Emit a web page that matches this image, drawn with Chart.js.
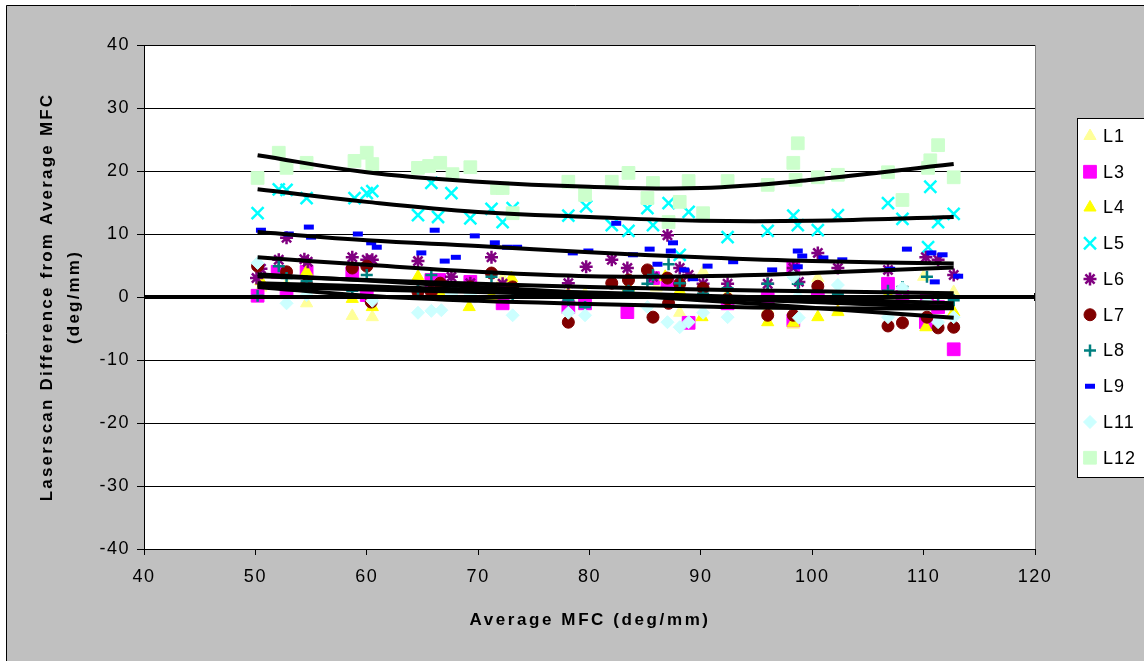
<!DOCTYPE html>
<html>
<head>
<meta charset="utf-8">
<title>Laserscan difference from average MFC</title>
<script src="https://cdn.jsdelivr.net/npm/chart.js@4.4.1/dist/chart.umd.min.js"></script>
<style>
	html, body { margin: 0; padding: 0; background: #fff; }
	canvas { display: block; }
</style>
</head>
<body>
<canvas id="myChart" width="1144" height="661"></canvas>
<script>
// values, [average MFC, difference]
var l1 = [[50.5,1.5],[52.8,2.0],[54.6,-1.0],[58.7,-3.0],[60.5,-3.2],[64.6,3.2],[66.6,1.0],[72.2,2.9],[78.1,-1.0],[79.6,0.5],[83.5,1.0],[86.0,1.5],[88.1,-2.5],[90.2,4.0],[92.4,0.5],[96.0,-2.0],[98.3,-4.4],[100.5,3.0],[102.3,-2.2],[106.8,0.5],[108.1,-1.0],[110.0,3.2],[112.7,0.8]];
var l3 = [[50.2,0.2],[52.0,4.0],[52.8,1.1],[54.6,4.0],[58.7,3.8],[60.0,0.3],[65.8,2.7],[66.5,2.7],[69.3,2.4],[72.2,-1.0],[78.1,-1.6],[79.6,-1.0],[83.4,-2.4],[85.7,3.0],[87.0,2.2],[88.9,-4.1],[92.4,-1.0],[96.0,-0.3],[98.3,4.9],[98.3,-3.7],[100.5,0.0],[106.8,2.1],[108.1,0.0],[110.2,-4.0],[110.3,-0.5],[111.3,-1.6],[112.7,-8.3]];
var l4 = [[50.5,2.5],[54.6,4.0],[58.7,-0.3],[60.5,-1.6],[64.6,3.2],[66.7,0.5],[69.2,-1.6],[71.2,0.2],[73.0,3.0],[78.1,0.5],[83.5,1.5],[86.8,3.2],[88.1,1.0],[90.1,-3.2],[92.4,0.0],[96.0,-4.0],[98.3,-4.1],[100.5,-3.2],[102.3,-2.4],[106.8,0.3],[110.2,-4.8],[112.7,-2.4]];
var l5 = [[50.2,13.3],[52.1,17.1],[52.8,17.0],[54.6,15.7],[58.9,15.7],[60.0,16.5],[60.5,16.8],[64.6,13.0],[65.8,18.1],[66.4,12.7],[67.6,16.5],[69.3,12.5],[71.2,14.0],[72.2,11.9],[73.1,14.1],[78.1,12.9],[79.7,14.4],[82.0,11.4],[83.5,10.5],[85.2,14.1],[85.7,11.4],[87.1,14.9],[88.1,6.7],[88.9,13.5],[92.4,9.5],[96.0,10.5],[98.3,12.9],[98.7,11.4],[100.5,10.6],[102.3,13.0],[106.8,14.9],[108.1,12.4],[110.4,7.9],[110.6,17.5],[111.3,11.9],[112.7,13.2]];
var l6 = [[50.1,3.0],[50.5,4.5],[52.1,5.9],[52.8,9.4],[54.4,6.0],[54.7,5.6],[58.7,6.3],[60.0,5.9],[60.5,5.9],[64.6,5.7],[67.6,3.2],[69.3,2.2],[71.2,6.3],[72.2,2.1],[78.1,2.2],[79.7,4.8],[82.0,5.9],[83.4,4.6],[85.7,3.2],[87.0,9.8],[88.1,4.6],[88.9,3.5],[90.2,2.1],[92.4,2.1],[96.0,2.1],[98.3,4.6],[98.8,2.4],[100.5,7.0],[102.3,4.6],[106.8,4.3],[110.2,6.3],[111.3,5.9],[112.7,3.5]];
var l7 = [[50.2,4.9],[52.8,4.0],[54.6,2.0],[58.7,4.6],[60.0,4.9],[60.4,-0.8],[64.6,0.8],[65.8,0.8],[66.6,2.2],[69.3,1.6],[71.2,3.8],[73.1,1.6],[78.1,-4.0],[82.0,2.2],[83.5,2.7],[85.2,4.3],[85.7,-3.2],[87.0,3.0],[87.1,-1.0],[88.1,2.1],[90.2,1.4],[92.4,-0.3],[96.0,-2.9],[98.3,-2.9],[100.5,1.7],[102.3,-0.3],[106.8,-4.6],[108.1,-4.1],[110.3,-3.2],[111.3,-4.9],[112.7,-4.8]];
var l8 = [[50.2,0.2],[52.1,4.9],[52.8,3.0],[54.6,2.5],[58.7,1.0],[60.0,3.5],[64.6,1.3],[65.8,3.5],[67.6,1.5],[71.2,3.2],[73.1,0.0],[78.1,-0.5],[79.6,-1.6],[83.5,1.0],[85.2,2.1],[85.7,3.5],[87.1,5.2],[88.1,2.2],[90.2,0.5],[92.4,1.4],[96.0,2.1],[98.7,2.1],[102.3,0.5],[106.8,1.0],[108.1,1.6],[110.3,3.2],[111.3,-0.9],[112.7,-0.5]];
var l9 = [[50.5,10.6],[53.0,10.0],[54.8,11.1],[55.0,9.5],[59.2,10.0],[60.4,8.6],[60.9,7.9],[64.9,7.0],[66.1,10.6],[67.0,5.7],[68.0,6.3],[69.7,9.7],[71.5,8.6],[72.6,7.9],[73.5,7.9],[78.5,7.0],[79.9,7.3],[82.4,11.7],[83.9,6.7],[85.4,7.6],[86.1,5.2],[87.3,7.3],[87.5,8.6],[88.5,4.3],[89.3,2.9],[90.6,4.9],[92.9,5.6],[96.4,4.3],[98.7,7.3],[98.7,4.8],[99.1,6.5],[101.0,6.2],[102.7,5.9],[107.0,4.4],[108.5,7.6],[110.7,7.0],[111.0,2.4],[111.7,6.7],[113.1,3.3]];
var l11 = [[50.2,5.4],[52.8,-1.0],[54.6,0.3],[60.5,-0.6],[64.6,-2.5],[65.8,-2.2],[66.7,-2.1],[67.6,0.5],[69.3,0.5],[73.1,-2.9],[78.1,-2.5],[79.6,-2.9],[85.2,-1.6],[87.0,-4.0],[88.1,-4.8],[88.9,-4.0],[90.2,-2.5],[92.4,-3.2],[98.3,3.2],[98.7,0.0],[98.8,-3.3],[102.3,1.9],[106.8,-3.2],[108.1,1.4],[110.3,-0.8],[111.3,-4.0],[112.7,-3.2]];
var l12 = [[50.2,18.9],[52.1,22.9],[52.8,20.5],[54.6,21.3],[58.9,21.6],[60.0,22.9],[60.5,21.1],[64.6,20.5],[65.6,20.8],[66.6,21.3],[67.7,19.5],[69.3,20.6],[71.7,17.3],[72.2,17.3],[73.1,13.3],[78.1,18.3],[79.6,16.2],[82.0,18.3],[83.5,19.7],[85.2,15.7],[85.7,18.1],[87.1,11.9],[88.1,15.1],[88.9,18.4],[90.2,13.3],[92.4,18.4],[96.0,17.8],[98.3,21.3],[98.5,18.6],[98.7,24.4],[100.5,19.0],[102.3,19.4],[106.8,19.8],[108.1,15.4],[110.4,20.5],[110.6,21.7],[111.3,24.1],[112.7,19.0]];

// trend lines (one per series), sampled at these x values
var trendX = [50.2, 60, 70, 80, 90, 100, 112.7];
var trend1 = [1.9, 1.5, 1.1, 0.7, 0.2, -0.3, -1.0];
var trend3 = [2.2, 1.7, 1.1, 0.5, -0.1, -0.7, -1.6];
var trend4 = [1.7, 1.2, 0.8, 0.3, -0.2, -0.8, -1.7];
var trend5 = [17.1, 15.1, 13.5, 12.7, 12.1, 12.1, 12.7];
var trend6 = [6.3, 5.1, 4.0, 3.3, 3.3, 3.8, 4.7];
var trend7 = [3.6, 2.6, 1.6, 0.6, -0.5, -1.7, -3.3];
var trend8 = [3.3, 2.7, 2.1, 1.6, 1.2, 0.9, 0.6];
var trend9 = [10.3, 9.0, 8.1, 7.1, 6.3, 5.7, 5.3];
var trend11 = [1.6, 0.2, -0.6, -1.1, -1.5, -1.8, -1.8];
var trend12 = [22.5, 19.8, 18.3, 17.5, 17.3, 18.6, 21.1];

var zeroLine = [[40, 0], [120, 0]];
var xTicks = [40, 50, 60, 70, 80, 90, 100, 110, 120];
var yTicks = [-40, -30, -20, -10, 0, 10, 20, 30, 40];

var font = "'Liberation Sans', Arial, sans-serif";

var series = [
	{label: 'L1', data: l1, trend: trend1, style: 'triangle', r: 7, color: '#FFFF99'},
	{label: 'L3', data: l3, trend: trend3, style: 'rect', r: 9, color: '#FF00FF'},
	{label: 'L4', data: l4, trend: trend4, style: 'triangle', r: 7, color: '#FFFF00'},
	{label: 'L5', data: l5, trend: trend5, style: 'crossRot', r: 8.5, color: '#00FFFF', bw: 2.5},
	{label: 'L6', data: l6, trend: trend6, style: 'star', r: 6.5, color: '#800080', bw: 2.5},
	{label: 'L7', data: l7, trend: trend7, style: 'circle', r: 6, color: '#800000'},
	{label: 'L8', data: l8, trend: trend8, style: 'cross', r: 6, color: '#008080', bw: 2.5},
	{label: 'L9', data: l9, trend: trend9, style: 'line', r: 5, color: '#0000FF', bw: 5},
	{label: 'L11', data: l11, trend: trend11, style: 'rectRot', r: 6.5, color: '#CCFFFF'},
	{label: 'L12', data: l12, trend: trend12, style: 'rect', r: 9, color: '#CCFFCC'}
];

function toPoints(arr){
	var out = [];
	for (var i in arr) out.push({x: arr[i][0], y: arr[i][1]});
	return out;
}

var datasets = [];
// zero line and trend lines on top of the markers
datasets.push({
	type: 'line', label: 'zero', data: toPoints(zeroLine),
	borderColor: '#000', borderWidth: 4, order: 0,
	pointStyle: 'line', rotation: 90, pointRadius: 4, pointBorderWidth: 2, pointBorderColor: '#000'
});
for (var i in series){
	var s = series[i];
	var pts = [];
	for (var j in trendX) pts.push({x: trendX[j], y: s.trend[j]});
	datasets.push({
		type: 'line', label: s.label + ' trend', data: pts,
		borderColor: '#000', borderWidth: 4, pointRadius: 0, tension: 0.4, fill: false, order: 0
	});
}
for (var i in series){
	var s = series[i];
	datasets.push({
		type: 'scatter', label: s.label, data: toPoints(s.data),
		pointStyle: s.style, pointRadius: s.r, pointHoverRadius: s.r,
		backgroundColor: s.color, borderColor: s.color, borderWidth: s.bw || 1,
		order: 20 - i
	});
}

var frame = {
	id: 'frame',
	beforeUpdate: function(chart){ chart.ctx.letterSpacing = '1.5px'; },
	beforeDraw: function(chart){
		var ctx = chart.ctx, a = chart.chartArea;
		ctx.save();
		ctx.fillStyle = '#fff';
		ctx.fillRect(0, 0, chart.width, chart.height);
		ctx.fillStyle = '#C0C0C0';
		ctx.fillRect(6, 5, chart.width, chart.height);
		ctx.strokeStyle = '#000';
		ctx.lineWidth = 1;
		ctx.beginPath();
		ctx.moveTo(6.5, chart.height); ctx.lineTo(6.5, 5.5); ctx.lineTo(chart.width, 5.5);
		ctx.stroke();
		ctx.fillStyle = '#fff';
		ctx.fillRect(a.left, a.top, a.right - a.left, a.bottom - a.top);
		ctx.strokeStyle = '#808080';
		ctx.strokeRect(a.left + 0.5, a.top + 0.5, a.right - a.left, a.bottom - a.top);
		ctx.restore();
		ctx.letterSpacing = '1.5px';
	},
	afterDraw: function(chart){
		var ctx = chart.ctx;
		ctx.save();
		ctx.fillStyle = '#000';
		ctx.textAlign = 'center';
		ctx.textBaseline = 'middle';
		ctx.font = 'bold 17px ' + font;
		ctx.letterSpacing = '2.6px';
		ctx.fillText('Average MFC (deg/mm)', 590, 620);
		ctx.letterSpacing = '2.2px';
		ctx.translate(0, 297);
		ctx.rotate(-Math.PI / 2);
		ctx.fillText('Laserscan Difference from Average MFC', 0, 47);
		ctx.fillText('(deg/mm)', 0, 74);
		ctx.restore();

		// legend
		ctx.save();
		var top = 118, step = 35.75;
		ctx.fillStyle = '#fff';
		ctx.fillRect(1077, top, 80, 477 - top);
		ctx.strokeStyle = '#000';
		ctx.lineWidth = 1;
		ctx.strokeRect(1077.5, top + 0.5, 80, 477 - top);
		ctx.font = '18px ' + font;
		ctx.letterSpacing = '1px';
		ctx.textAlign = 'left';
		ctx.textBaseline = 'middle';
		for (var i in series){
			var s = series[i];
			var y = 136 + i * step;
			ctx.fillStyle = s.color;
			ctx.strokeStyle = s.color;
			ctx.lineWidth = s.bw || 1;
			if (Chart.helpers && Chart.helpers.drawPoint){
				Chart.helpers.drawPoint(ctx, {pointStyle: s.style, radius: s.r, rotation: 0, borderWidth: s.bw || 1}, 1090, y);
			} else {
				ctx.fillRect(1085, y - 5, 10, 10);
			}
			ctx.fillStyle = '#000';
			ctx.fillText(s.label, 1103, y + 1);
		}
		ctx.restore();
	}
};

var ctx = document.getElementById('myChart');
var chart = new Chart(ctx, {
	type: 'scatter',
	data: {datasets: datasets},
	options: {
		responsive: false,
		animation: false,
		events: [],
		layout: {padding: {top: 45, right: 109, bottom: 0, left: 0}},
		plugins: {legend: {display: false}, tooltip: {enabled: false}},
		scales: {
			x: {
				type: 'linear', min: 40, max: 120,
				afterBuildTicks: function(scale){ scale.ticks = xTicks.map(function(v){ return {value: v}; }); },
				afterFit: function(scale){ scale.height = 112; },
				ticks: {color: '#000', font: {size: 18, family: font}, padding: 11},
				grid: {drawOnChartArea: false, color: '#000', tickLength: 6},
				border: {color: '#000', width: 1}
			},
			y: {
				type: 'linear', min: -40, max: 40,
				afterBuildTicks: function(scale){ scale.ticks = yTicks.map(function(v){ return {value: v}; }); },
				afterFit: function(scale){ scale.width = 144; },
				ticks: {color: '#000', font: {size: 18, family: font}, padding: 7},
				grid: {color: '#000', lineWidth: 1, tickLength: 7},
				border: {color: '#000', width: 1}
			}
		}
	},
	plugins: [frame]
});
</script>
</body>
</html>
